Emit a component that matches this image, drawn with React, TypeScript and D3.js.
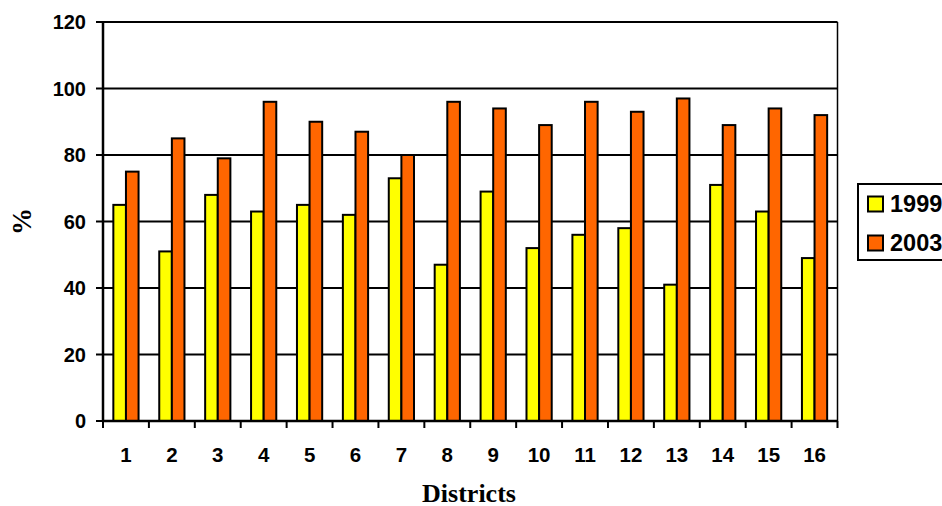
import React from "react";
import * as d3 from "d3";

const districts = ["1", "2", "3", "4", "5", "6", "7", "8", "9", "10", "11", "12", "13", "14", "15", "16"];
const seriesNames = ["1999", "2003"];
const values1999 = [65, 51, 68, 63, 65, 62, 73, 47, 69, 52, 56, 58, 41, 71, 63, 49];
const values2003 = [75, 85, 79, 96, 90, 87, 80, 96, 94, 89, 96, 93, 97, 89, 94, 92];
const yTicks = [0, 20, 40, 60, 80, 100, 120];
const colors = ["#FFFF00", "#FF6600"];

const W = 942;
const H = 506;
const plot = { left: 103, right: 837.5, top: 22, bottom: 421 };

export default function App() {
  const x = d3.scaleBand<string>().domain(districts).range([plot.left, plot.right]).paddingInner(0).paddingOuter(0);
  const y = d3.scaleLinear().domain([0, 120]).range([plot.bottom, plot.top]);
  const inner = d3.scaleBand<string>().domain(seriesNames).range([0, x.bandwidth()]).paddingInner(0).paddingOuter(0.82);
  const series = [values1999, values2003];
  const sans = "'Liberation Sans', Arial, sans-serif";
  const serif = "'Liberation Serif', 'Times New Roman', serif";

  return (
    <svg width={W} height={H} style={{ position: "absolute", left: 0, top: 0, background: "#fff" }}>
      {/* horizontal gridlines */}
      {yTicks.map((t) => (
        <line key={"g" + t} x1={plot.left} x2={plot.right} y1={y(t)} y2={y(t)} stroke="#000" strokeWidth={2} />
      ))}
      {/* right border */}
      <line x1={plot.right} x2={plot.right} y1={plot.top} y2={plot.bottom} stroke="#000" strokeWidth={1.5} />
      {/* bars */}
      {series.map((vals, si) =>
        vals.map((v, i) => {
          const x0 = (x(districts[i]) as number) + (inner(seriesNames[si]) as number);
          return (
            <rect
              key={si + "-" + i}
              x={x0}
              y={y(v)}
              width={inner.bandwidth()}
              height={y(0) - y(v)}
              fill={colors[si]}
              stroke="#000"
              strokeWidth={2}
            />
          );
        })
      )}
      {/* y axis */}
      <line x1={plot.left} x2={plot.left} y1={plot.top - 1} y2={plot.bottom + 1} stroke="#000" strokeWidth={2.5} />
      {yTicks.map((t) => (
        <g key={"y" + t}>
          <line x1={plot.left - 7} x2={plot.left} y1={y(t)} y2={y(t)} stroke="#000" strokeWidth={2} />
          <text x={86} y={y(t)} dy="0.36em" textAnchor="end" fontFamily={sans} fontWeight="bold" fontSize={20}>
            {t}
          </text>
        </g>
      ))}
      {/* x axis */}
      <line x1={plot.left} x2={plot.right} y1={plot.bottom} y2={plot.bottom} stroke="#000" strokeWidth={2.5} />
      {[...districts.map((d) => x(d) as number), plot.right].map((px, i) => (
        <line key={"xt" + i} x1={px} x2={px} y1={plot.bottom} y2={plot.bottom + 7} stroke="#000" strokeWidth={2} />
      ))}
      {districts.map((d) => (
        <text
          key={"xl" + d}
          x={(x(d) as number) + x.bandwidth() / 2}
          y={462}
          textAnchor="middle"
          fontFamily={sans}
          fontWeight="bold"
          fontSize={20.5}
        >
          {d}
        </text>
      ))}
      {/* axis titles */}
      <text x={469} y={502} textAnchor="middle" fontFamily={serif} fontWeight="bold" fontSize={26}>
        Districts
      </text>
      <text
        transform={`translate(31, ${(plot.top + plot.bottom) / 2}) rotate(-90)`}
        textAnchor="middle"
        fontFamily={serif}
        fontWeight="bold"
        fontSize={27}
      >
        %
      </text>
      {/* legend */}
      <rect x={858} y={184} width={100} height={76} fill="#fff" stroke="#000" strokeWidth={2} />
      {seriesNames.map((n, i) => (
        <g key={"lg" + n} transform={`translate(868, ${204 + i * 39})`}>
          <rect x={0} y={-7.5} width={15} height={15} fill={colors[i]} stroke="#000" strokeWidth={2} />
          <text x={22} y={0} dy="0.36em" fontFamily={sans} fontWeight="bold" fontSize={23.5}>
            {n}
          </text>
        </g>
      ))}
    </svg>
  );
}
